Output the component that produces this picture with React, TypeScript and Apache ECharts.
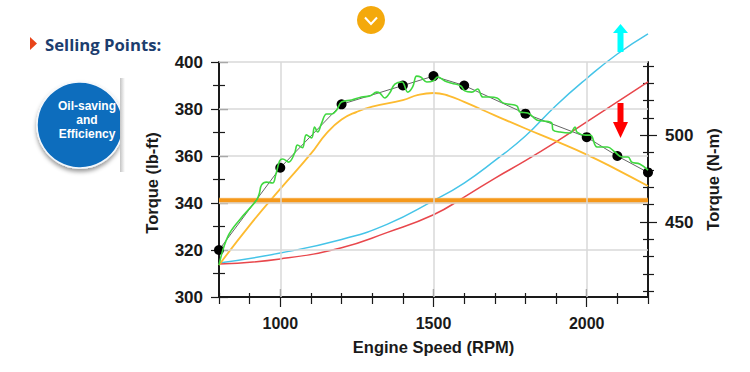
import React, { useEffect, useRef } from "react";
import * as echarts from "echarts";

const rpmMajor = [1000, 1500, 2000];
const rpmMinor = [800, 900, 1100, 1200, 1300, 1400, 1600, 1700, 1800, 1900, 2100, 2200];
const lbftMajor = [300, 320, 340, 360, 380, 400];
const lbftMinor = [310, 330, 350, 370, 390];
const nmMajor = [450, 500];
const nmMinor = [410, 420, 430, 440, 460, 470, 480, 490, 510, 520, 530, 540];
const gridRpm = [1000, 1500, 2000];
const gridTorque = [320, 340, 360, 380, 400];

const measured = [
  [800, 320], [1000, 355], [1200, 382], [1400, 390], [1500, 394],
  [1600, 390], [1800, 378], [2000, 368], [2100, 360], [2200, 353],
];
const raw = [
  [800, 313.6], [828, 325.5], [867, 332.8], [923, 341.3], [932, 344.3], [939, 347.7], [955, 348.9],
  [975, 348.5], [985, 351.9], [998, 357.9], [1008, 358.7], [1027, 357.4], [1047, 361.3], [1056, 364.7],
  [1072, 363.5], [1085, 369], [1102, 367.7], [1112, 372.3], [1122, 370.2], [1135, 374], [1151, 377.9],
  [1168, 377.9], [1184, 379.6], [1200, 383], [1233, 383.8], [1265, 385.1], [1292, 385.5], [1315, 387.2],
  [1325, 386.8], [1341, 384.7], [1357, 386.8], [1374, 390.6], [1397, 391.5], [1416, 387.2], [1432, 389.4],
  [1445, 394], [1458, 393.6], [1478, 391.5], [1498, 391.9], [1514, 393.6], [1537, 391.9], [1560, 391],
  [1589, 389.8], [1602, 387.7], [1625, 387.2], [1644, 388.5], [1661, 385.1], [1684, 385.1], [1707, 384.7],
  [1727, 382.6], [1743, 382.1], [1772, 381.3], [1782, 378.7], [1808, 378.3], [1837, 375.3], [1857, 374.9],
  [1886, 374], [1890, 371.1], [1913, 370.2], [1945, 369.8], [1962, 372.3], [1968, 370.2], [1995, 368.9],
  [2012, 368.9], [2034, 363.8], [2067, 363.8], [2092, 361.7], [2115, 359.6], [2135, 359.6], [2147, 357.4],
  [2173, 356.6], [2200, 354],
];
const yellow = [
  [800, 313.6], [900, 330.5], [1000, 346], [1100, 361], [1150, 369.5], [1200, 375.5], [1250, 378.8],
  [1300, 381], [1400, 383.8], [1450, 386], [1500, 386.8], [1550, 385.6], [1600, 383], [1700, 377.3],
  [1800, 371.7], [1900, 366.3], [2000, 360.6], [2100, 354.1], [2200, 347.2],
];
const cyan = [
  [800, 314.5], [1000, 318.7], [1200, 324.5], [1350, 331], [1500, 341], [1600, 348.5], [1700, 358],
  [1800, 368.5], [1900, 381.5], [2000, 393], [2100, 403.4], [2200, 412],
];
const red = [
  [800, 314], [1000, 316.2], [1200, 321], [1350, 327.5], [1500, 335], [1600, 342.5], [1700, 350.5],
  [1800, 358], [1900, 366], [2000, 374.5], [2100, 383], [2200, 391.5],
];
const reference = [[800, 341], [2200, 341]];
const sideLines = ["Oil-saving", "and", "Efficiency"];

const font = "Liberation Sans";
const ink = "#1a1a1a";

function App() {
  const ref = useRef<HTMLDivElement>(null);
  useEffect(() => {
    const chart = echarts.init(ref.current!, undefined, { renderer: "svg" });
    const off = { axisLine: { show: false }, axisLabel: { show: false }, splitLine: { show: false } };
    const xBase = { type: "value", min: 800, max: 2200, position: "bottom", splitLine: { show: false } };
    const xTicks = (vals: number[], len: number, inside: boolean) => ({
      ...xBase, ...off,
      axisTick: { show: true, inside, length: len, customValues: vals, lineStyle: { color: ink, width: 1.2 } },
    });
    const yTicks = (pos: string, min: number, max: number, vals: number[], len: number, inside: boolean) => ({
      type: "value", min, max, position: pos, ...off,
      axisTick: { show: true, inside, length: len, customValues: vals, lineStyle: { color: ink, width: 1.2 } },
    });
    const plain = (v: number) => String(v);
    const tickLabel = { color: ink, fontFamily: font, fontWeight: "bold", fontSize: 17, formatter: plain };
    const titleStyle = { color: ink, fontFamily: font, fontWeight: "bold", fontSize: 16.5 };
    const NM_MIN = 406.75, NM_MAX = 542.3;

    const graphics: any[] = [
      { type: "circle", shape: { cx: 80, cy: 125, r: 43 },
        style: { fill: "#0d6dbd", stroke: "#f4f8fc", lineWidth: 1.5, shadowBlur: 4, shadowColor: "rgba(0,0,0,0.4)", shadowOffsetY: 3 } },
      { type: "rect", shape: { x: 120, y: 70, width: 14, height: 110 }, style: { fill: "#fff" } },
      { type: "rect", shape: { x: 120, y: 78, width: 5, height: 94 },
        style: { fill: new echarts.graphic.LinearGradient(0, 0, 1, 0, [
          { offset: 0, color: "#c4c4c4" }, { offset: 1, color: "#ffffff" },
        ]) } },
      { type: "polygon", shape: { points: [[30, 37], [37, 43.5], [30, 50]] }, style: { fill: "#e8441a" } },
      { type: "text", x: 45, y: 44,
        style: { text: "Selling Points:", font: "bold 16.7px 'Open Sans'", fill: "#1c3d6e", textAlign: "left", textVerticalAlign: "middle" } },
      { type: "circle", shape: { cx: 371, cy: 20, r: 14 }, style: { fill: "#f4a90c" } },
      { type: "polyline", shape: { points: [[365, 17.5], [371, 24], [377, 17.5]] },
        style: { stroke: "#fff", lineWidth: 2, fill: "none" } },
      { type: "polygon", z: 10,
        shape: { points: [[620.5, 24], [628, 33], [623.5, 33], [623.5, 52], [617.5, 52], [617.5, 33], [613, 33]] },
        style: { fill: "#00ffff" } },
      { type: "polygon", z: 10,
        shape: { points: [[617.5, 103], [623.5, 103], [623.5, 122], [628, 122], [620.5, 138], [613, 122], [617.5, 122]] },
        style: { fill: "#ff0000" } },
      ...sideLines.map((t, i) => ({
        type: "text", x: 87, y: 106 + i * 14,
        style: { text: t, font: "bold 12px 'Liberation Sans'", fill: "#fff", textAlign: "center", textVerticalAlign: "middle" },
      })),
    ];

    chart.setOption({
      animation: false,
      backgroundColor: "#fff",
      grid: { left: 219, right: 102, top: 62, bottom: 75, containLabel: false },
      graphic: { elements: graphics },
      xAxis: [
        {
          ...xBase,
          axisLine: { show: true, onZero: false, lineStyle: { color: ink, width: 2 } },
          axisTick: { show: true, length: 10, customValues: rpmMajor, lineStyle: { color: ink, width: 1.2 } },
          axisLabel: { ...tickLabel, fontSize: 16, margin: 18, customValues: rpmMajor },
          name: "Engine Speed (RPM)", nameLocation: "middle", nameGap: 41, nameTextStyle: titleStyle,
        },
        xTicks(rpmMajor, 8, true),
        xTicks(rpmMinor, 7, false),
        xTicks(rpmMinor, 4, true),
      ],
      yAxis: [
        {
          type: "value", min: 300, max: 400, position: "left", splitLine: { show: false },
          axisLine: { show: true, onZero: false, lineStyle: { color: ink, width: 2 } },
          axisTick: { show: true, length: 8, customValues: lbftMajor, lineStyle: { color: ink, width: 1.2 } },
          axisLabel: { ...tickLabel, margin: 16, customValues: lbftMajor },
          name: "Torque (lb-ft)", nameLocation: "middle", nameGap: 59, nameRotate: 90,
          nameTextStyle: { ...titleStyle, padding: [0, 7, 0, 0] },
        },
        {
          type: "value", min: NM_MIN, max: NM_MAX, position: "right", splitLine: { show: false },
          axisLine: { show: true, onZero: false, lineStyle: { color: ink, width: 2 } },
          axisTick: { show: true, inside: true, length: 8, customValues: nmMajor, lineStyle: { color: ink, width: 1.2 } },
          axisLabel: { ...tickLabel, margin: 17, customValues: nmMajor },
          name: "Torque (N-m)", nameLocation: "middle", nameGap: 56, nameRotate: 90, nameTextStyle: titleStyle,
        },
        yTicks("left", 300, 400, lbftMajor, 9, true),
        yTicks("left", 300, 400, lbftMinor, 6, false),
        yTicks("left", 300, 400, lbftMinor, 6, true),
        yTicks("right", NM_MIN, NM_MAX, nmMajor, 9, false),
        yTicks("right", NM_MIN, NM_MAX, nmMinor, 6, false),
        yTicks("right", NM_MIN, NM_MAX, nmMinor, 5, true),
      ],
      series: [
        {
          type: "line", data: [], z: 1, silent: true,
          markLine: {
            silent: true, symbol: "none", label: { show: false },
            lineStyle: { color: "#d9d9d9", width: 1.5, type: "solid" },
            data: [...gridRpm.map((v) => ({ xAxis: v })), ...gridTorque.map((v) => ({ yAxis: v }))],
          },
        },
        { type: "line", data: cyan, smooth: 0.5, showSymbol: false, clip: false, z: 3, lineStyle: { color: "#45c4e8", width: 1.5 } },
        { type: "line", data: red, smooth: 0.5, showSymbol: false, clip: false, z: 3, lineStyle: { color: "#e8474c", width: 1.5 } },
        { type: "line", data: yellow, smooth: 0.5, showSymbol: false, clip: false, z: 3, lineStyle: { color: "#fdbb30", width: 1.8 } },
        { type: "line", data: reference, showSymbol: false, clip: false, z: 4, lineStyle: { color: "#f7c98a", width: 7, opacity: 0.3 } },
        { type: "line", data: reference, showSymbol: false, clip: false, z: 4, lineStyle: { color: "#f5981a", width: 5, opacity: 1 } },
        {
          type: "line", data: measured, clip: false, z: 5, symbol: "circle", symbolSize: 10, showSymbol: true, showAllSymbol: true,
          itemStyle: { color: "#000" }, lineStyle: { color: "#666", width: 1 },
        },
        { type: "line", data: raw, smooth: 0.4, showSymbol: false, clip: false, z: 6, lineStyle: { color: "#3fd83f", width: 1.6 } },
      ],
    });
    return () => chart.dispose();
  }, []);
  return <div ref={ref} style={{ position: "absolute", left: 0, top: 0, width: 750, height: 372 }} />;
}

export default App;
